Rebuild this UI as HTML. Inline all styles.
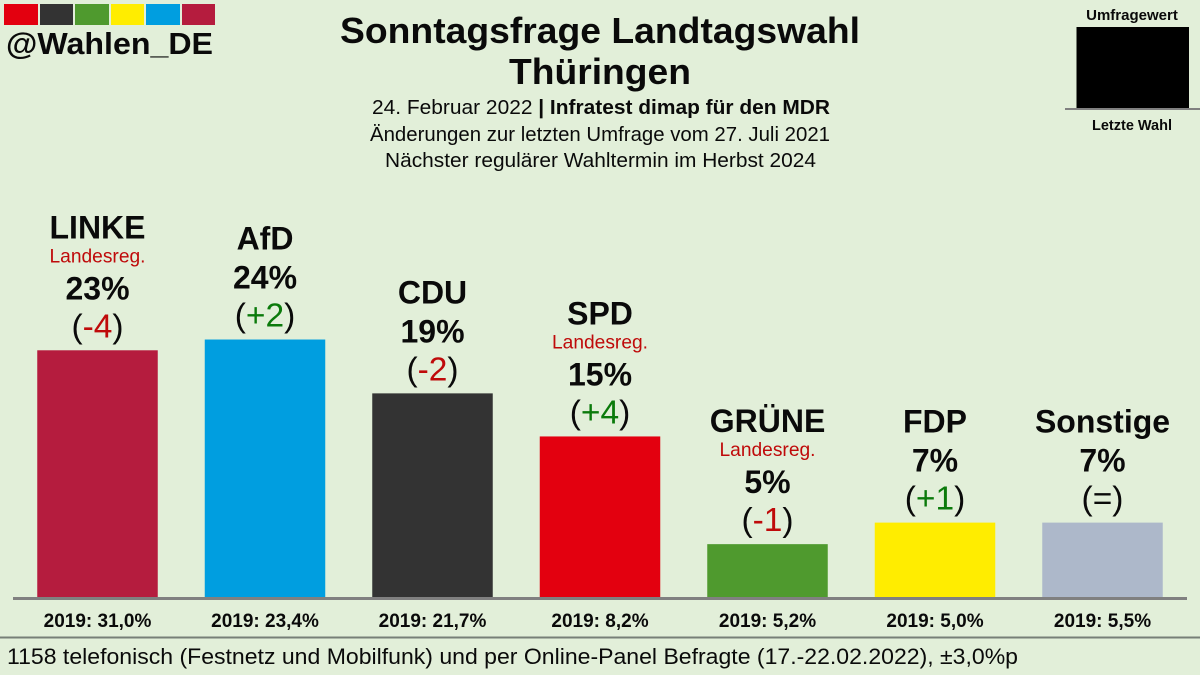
<!DOCTYPE html>
<html lang="de">
<head>
<meta charset="utf-8">
<title>Sonntagsfrage Landtagswahl Thüringen</title>
<style>
html,body{margin:0;padding:0;background:#e2efd9;}
svg{display:block;font-family:"Liberation Sans",sans-serif;}
text{fill:#0a0a0a;}
</style>
</head>
<body>
<svg id="chart" width="1200" height="675" viewBox="0 0 1200 675" xmlns="http://www.w3.org/2000/svg">
<rect x="0" y="0" width="1200" height="675" fill="#e2efd9"/>
<g>
<rect x="4" y="4" width="34" height="21" fill="#e3000f"/>
<rect x="40" y="4" width="33" height="21" fill="#333333"/>
<rect x="75" y="4" width="34" height="21" fill="#4f9a2e"/>
<rect x="111" y="4" width="33" height="21" fill="#ffed00"/>
<rect x="146" y="4" width="34" height="21" fill="#009ee0"/>
<rect x="182" y="4" width="33" height="21" fill="#b51c3e"/>
</g>
<text x="6" y="54" font-size="31" font-weight="bold" textLength="207" lengthAdjust="spacingAndGlyphs">@Wahlen_DE</text>
<text x="340" y="43" font-size="36" font-weight="bold" textLength="520" lengthAdjust="spacingAndGlyphs">Sonntagsfrage Landtagswahl</text>
<text x="509" y="84" font-size="36" font-weight="bold" textLength="182" lengthAdjust="spacingAndGlyphs">Thüringen</text>
<text x="372" y="114" font-size="20" textLength="458" lengthAdjust="spacingAndGlyphs">24. Februar 2022 <tspan font-weight="bold">| Infratest dimap für den MDR</tspan></text>
<text x="370" y="141" font-size="20" textLength="460" lengthAdjust="spacingAndGlyphs">Änderungen zur letzten Umfrage vom 27. Juli 2021</text>
<text x="385" y="167" font-size="20" textLength="431" lengthAdjust="spacingAndGlyphs">Nächster regulärer Wahltermin im Herbst 2024</text>
<g>
<text x="1132" y="20" font-size="15" font-weight="bold" text-anchor="middle">Umfragewert</text>
<rect x="1076.5" y="27" width="112.5" height="81" fill="#000000"/>
<rect x="1065" y="108" width="135" height="2" fill="#808080"/>
<text x="1132" y="130" font-size="14.5" font-weight="bold" text-anchor="middle">Letzte Wahl</text>
</g>
<g id="bars"></g>
<rect x="13" y="597" width="1174" height="3" fill="#808080"/>
<g id="labels"></g>
<rect x="0" y="636.5" width="1200" height="2" fill="#777f77"/>
<text x="7" y="664" font-size="22" textLength="1011" lengthAdjust="spacingAndGlyphs">1158 telefonisch (Festnetz und Mobilfunk) und per Online-Panel Befragte (17.-22.02.2022), ±3,0%p</text>
</svg>
<script>
const parties = ["LINKE", "AfD", "CDU", "SPD", "GRÜNE", "FDP", "Sonstige"];
const pollValues = [23, 24, 19, 15, 5, 7, 7];
const changeValues = [-4, 2, -2, 4, -1, 1, 0];
const lastElection = [31.0, 23.4, 21.7, 8.2, 5.2, 5.0, 5.5];
const inGovernment = [true, false, false, true, true, false, false];
const barColors = ["#b51c3e", "#009ee0", "#333333", "#e3000f", "#4f9a2e", "#ffed00", "#adb8ca"];

const NS = "http://www.w3.org/2000/svg";
const baselineY = 598;
const unitHeight = 10.77;
const firstCenter = 97.5;
const centerStep = 167.5;
const barWidth = 120.5;
const RED = "#bf0a0a";
const GREEN = "#0b7a0b";

function xCenter(i) { return firstCenter + centerStep * i; }
function yValue(v) { return baselineY - v * unitHeight; }

function makeText(parent, x, y, size, weight, fill, content) {
  const t = document.createElementNS(NS, "text");
  t.setAttribute("x", x);
  t.setAttribute("y", y);
  t.setAttribute("font-size", size);
  t.setAttribute("font-weight", weight);
  t.setAttribute("text-anchor", "middle");
  t.setAttribute("fill", fill);
  t.style.fill = fill;
  t.textContent = content;
  parent.appendChild(t);
  return t;
}

const barsGroup = document.getElementById("bars");
const labelsGroup = document.getElementById("labels");

parties.forEach(function (party, i) {
  const top = yValue(pollValues[i]);
  const cx = xCenter(i);

  const bar = document.createElementNS(NS, "rect");
  
  
  bar.setAttribute("x", cx - barWidth / 2);
  bar.setAttribute("y", top);
  bar.setAttribute("width", barWidth);
  bar.setAttribute("height", baselineY - top);
  bar.setAttribute("fill", barColors[i]);
  barsGroup.appendChild(bar);

  const nameY = inGovernment[i] ? top - 112 : top - 90;
  const nameEl = makeText(labelsGroup, cx, nameY, 32, "bold", "#0a0a0a", party);
  
  

  if (inGovernment[i]) {
    const gov = makeText(labelsGroup, cx, top - 88, 19.2, "normal", RED, "Landesreg.");
    
    
  }

  const pct = makeText(labelsGroup, cx, top - 51, 32, "bold", "#0a0a0a", pollValues[i] + "%");
  
  

  const ch = changeValues[i];
  const chText = makeText(labelsGroup, cx, top - 13, 33.5, "normal", "#0a0a0a", "");
  
  
  const open = document.createElementNS(NS, "tspan");
  open.textContent = "(";
  chText.appendChild(open);
  const mid = document.createElementNS(NS, "tspan");
  mid.textContent = ch === 0 ? "=" : (ch > 0 ? "+" + ch : String(ch));
  const midFill = ch === 0 ? "#0a0a0a" : (ch > 0 ? GREEN : RED);
  mid.style.fill = midFill;
  chText.appendChild(mid);
  const close = document.createElementNS(NS, "tspan");
  close.textContent = ")";
  chText.appendChild(close);

  const prev = makeText(labelsGroup, cx, 627, 19, "bold", "#0a0a0a", "2019: " + lastElection[i].toFixed(1).replace(".", ",") + "%");
  
  
});
</script>
</body>
</html>
